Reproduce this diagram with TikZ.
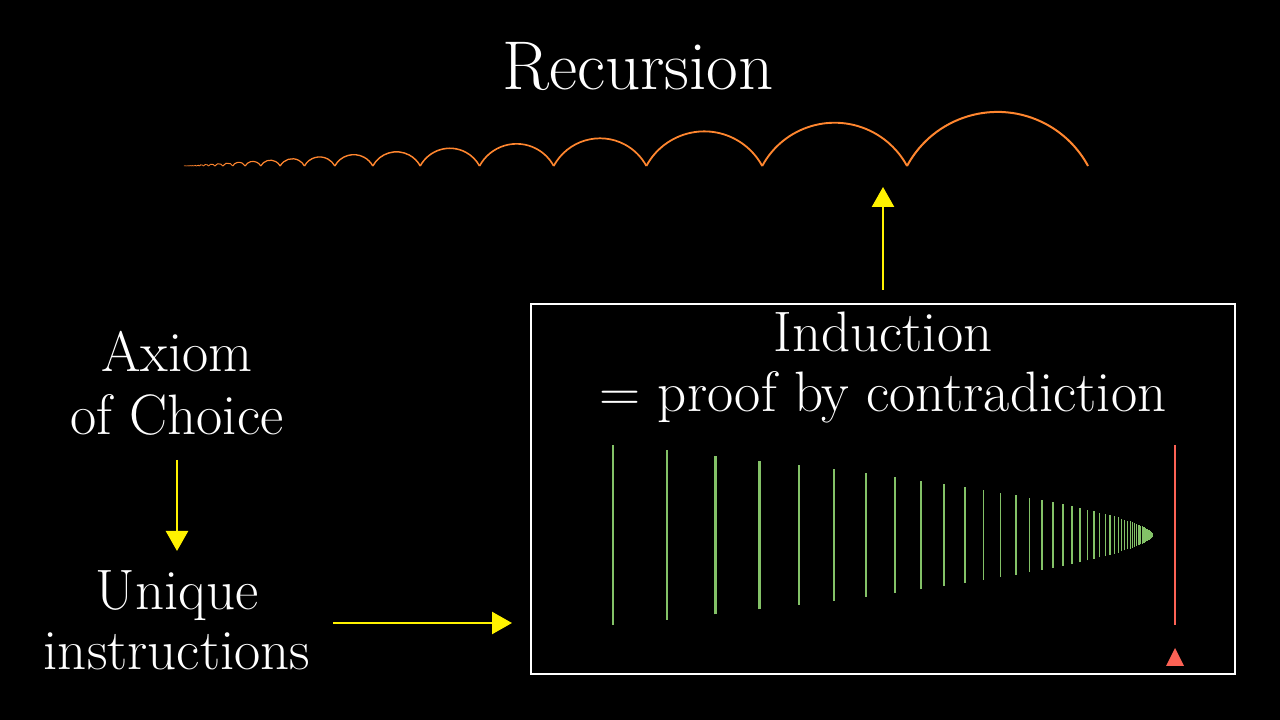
\documentclass[tikz,border=0pt]{standalone}
\usetikzlibrary{arrows.meta}
\begin{document}
\begin{tikzpicture}[x=1pt,y=1pt,
  txt/.style={text=white,font=\fontsize{57}{66}\selectfont,inner sep=0pt,anchor=base},
  arr/.style={draw=yellow,line width=2.5pt,-{Triangle[width=22pt,length=20pt]}}]
\fill[black] (0,0) rectangle (1280,720);
\useasboundingbox (0,0) rectangle (1280,720);
\node[txt,font=\fontsize{69}{76}\selectfont] (rec) at (638,720-90) {Recursion};
\foreach \k in {0,...,30}{
  \pgfmathsetmacro{\w}{181*0.8^\k}
  \pgfmathsetmacro{\xl}{1088-905*(1-0.8^(\k+1))}
  \pgfmathsetmacro{\R}{0.568*\w}
  \pgfmathsetmacro{\lw}{max(0.4,2*0.95^\k)}
  \draw[color={rgb,255:red,255;green,134;blue,47},line width=\lw pt] (\xl,554) arc[start angle=151.7,end angle=28.3,radius=\R];
}
\node[txt] (ax1) at (177,720-372) {Axiom};
\node[txt] (ax2) at (177,720-435) {of Choice};
\node[txt] (un1) at (177,720-610) {Unique};
\node[txt] (un2) at (177,720-670) {instructions};
\node[draw=white,line width=2.5pt,minimum width=704pt,minimum height=370pt,inner sep=0pt] (box) at (883,720-489) {};
\node[txt] (ind1) at (883,720-352) {Induction};
\node[txt] (ind2) at (883,720-412) {= proof by contradiction};
\coordinate (upS) at (883,720-290); \coordinate (upE) at (883,720-187);
\coordinate (dnS) at (177,720-460); \coordinate (dnE) at (177,720-551);
\coordinate (rS) at (333,720-623); \coordinate (rE) at (512,720-623);
\draw[arr] (upS) -- (upE);
\draw[arr] (dnS) -- (dnE);
\draw[arr] (rS) -- (rE);
\foreach \k in {0,...,70}{
  \pgfmathsetmacro{\d}{540*0.9^\k}
  \pgfmathsetmacro{\x}{1153-\d}
  \pgfmathsetmacro{\h}{90*(\d/540)^0.6}
  \pgfmathsetmacro{\lw}{max(0.4,2.5*0.97^\k)}
  \draw[color={rgb,255:red,131;green,193;blue,103},line width=\lw pt] (\x,185-\h) -- (\x,185+\h);
}
\draw[color={rgb,255:red,252;green,98;blue,85},line width=2.5pt] (1175,720-445) -- (1175,720-625);
\fill[color={rgb,255:red,252;green,98;blue,85}] (1166,720-666) -- (1184,720-666) -- (1175,720-648) -- cycle;
\end{tikzpicture}
\end{document}
